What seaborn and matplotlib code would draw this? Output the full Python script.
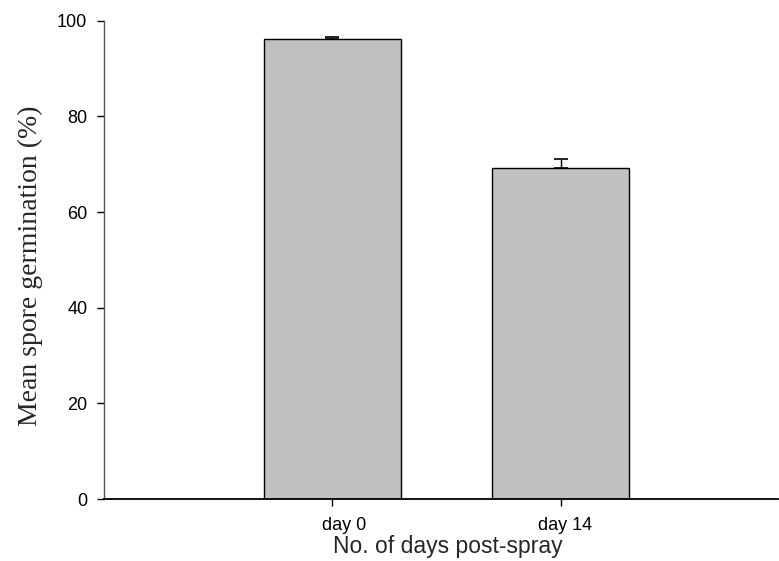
import pandas as pd
import matplotlib
matplotlib.use("Agg")
import matplotlib.pyplot as plt
import matplotlib.transforms as mtransforms
import seaborn as sns

days = ["day 0", "day 14"]
germination = [96.1, 69.2]
sem = [0.4, 1.9]

sns.set_style("ticks")
plt.rcParams['font.family'] = ['Liberation Sans', 'DejaVu Sans']

df = pd.DataFrame({"day": days, "germination": germination})

fig = plt.figure(figsize=(7.79, 5.61), dpi=100)
ax = fig.add_axes([0.1335, 0.1105, 0.8652, 0.8525])

sns.barplot(data=df, x="day", y="germination", color="#c0c0c0",
            saturation=1, width=0.6, edgecolor="black", linewidth=1,
            errorbar=None, ax=ax)
ax.errorbar(range(len(days)), germination, yerr=[[0] * len(sem), sem],
            fmt="none", ecolor="black", elinewidth=1, capsize=5, capthick=1.2)

ax.set_xlim(-1, 1.95)
ax.set_ylim(0, 100)
ax.set_yticks([0, 20, 40, 60, 80, 100])
ax.tick_params(axis="both", direction="out", length=5, width=1,
               labelsize=13, colors="black")
ax.tick_params(axis="x", pad=8)
ax.tick_params(axis="y", pad=7)

# the x tick labels sit a little right of their ticks in the original
for lab, dx in zip(ax.get_xticklabels(), [12, 4.5]):
    lab.set_transform(lab.get_transform()
                      + mtransforms.ScaledTranslation(dx / 100, 0, fig.dpi_scale_trans))

for s in ["top", "right"]:
    ax.spines[s].set_visible(False)
ax.spines["left"].set_color("#555555")
ax.spines["left"].set_linewidth(1)
ax.spines["bottom"].set_color("black")
ax.spines["bottom"].set_linewidth(1.3)

ax.set_xlabel("No. of days post-spray", fontsize=16.5)
ax.set_ylabel("Mean spore germination (%)", fontsize=20,
              family="Liberation Serif")
ax.xaxis.set_label_coords(0.51, -0.075)
ax.yaxis.set_label_coords(-0.09, 0.487)

fig.savefig("out.png", dpi=100)
